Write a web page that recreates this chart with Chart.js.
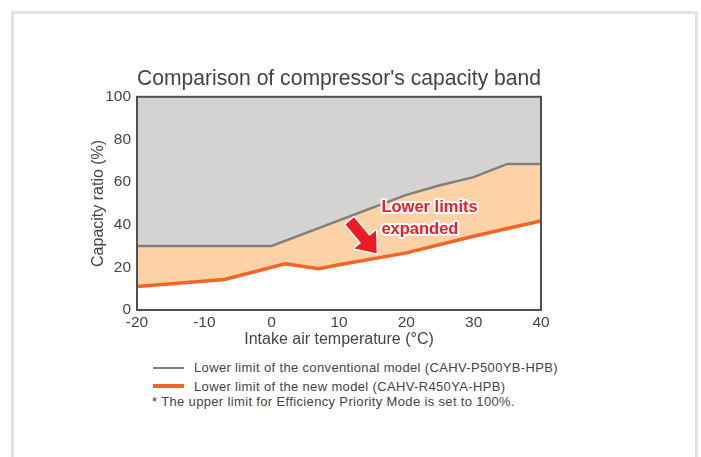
<!DOCTYPE html>
<html>
<head>
<meta charset="utf-8">
<script src="https://cdn.jsdelivr.net/npm/chart.js@4/dist/chart.umd.min.js"></script>
<style>
    body { margin: 0; width: 701px; height: 457px; overflow: hidden; background: #fff; font-family: "Liberation Sans", Arial, sans-serif; position: relative; }
    #frame { position: absolute; left: 11px; top: 11px; width: 681px; height: 500px; border: 3px solid #e3e3e3; }
    #chart { position: absolute; left: 0; top: 0; }
    .sw { position: absolute; left: 153px; width: 31px; }
    .lg { position: absolute; font-size: 13px; line-height: 15px; color: #444; letter-spacing: 0.35px; white-space: nowrap; }
</style>
</head>
<body>
<div id="frame"></div>
<canvas id="chart" width="701" height="350"></canvas>

<div class="sw" style="top:367px; height:2px; background:#808080;"></div>
<div class="lg" style="left:194px; top:360px;">Lower limit of the conventional model (CAHV-P500YB-HPB)</div>
<div class="sw" style="top:384px; height:4px; background:#f26522;"></div>
<div class="lg" style="left:194px; top:379px;">Lower limit of the new model (CAHV-R450YA-HPB)</div>
<div class="lg" style="left:152px; top:394px;">* The upper limit for Efficiency Priority Mode is set to 100%.</div>

<script>
// Límite inferior del modelo convencional (gris)
const CONV_X = [-20, 0, 20, 25, 30, 35, 40];
const CONV_Y = [30, 30, 54, 58.5, 62.3, 68.5, 68.5];

// Límite inferior del modelo nuevo (naranja)
const NEW_X = [-20, -7, 2, 7, 10, 20, 30, 35, 40];
const NEW_Y = [11, 14.3, 21.7, 19.4, 21.2, 26.8, 34.6, 38.2, 41.8];

// Ejes
const X_MIN = -20, X_MAX = 40, X_STEP = 10;
const Y_MIN = 0, Y_MAX = 100, Y_STEP = 20;

// Anotación (en unidades de datos)
const NOTE_LINES = ['Lower limits', 'expanded'];
const NOTE_AT = { x: 16.3, y: 46 };
const ARROW_FROM = { x: 11.6, y: 41.8 };
const ARROW_TO = { x: 15.6, y: 26.6 };

const RED = '#ec1c24';

const toPoints = (xs, ys) => xs.map((x, i) => ({ x, y: ys[i] }));

// Marco del área y flecha + texto
const overlayPlugin = {
    id: 'overlay',
    afterDatasetsDraw(chart) {
        const { ctx, chartArea: a, scales: { x, y } } = chart;
        ctx.save();

        // marco
        ctx.strokeStyle = '#505050';
        ctx.lineWidth = 2;
        ctx.strokeRect(a.left, a.top, a.right - a.left, a.bottom - a.top);

        // flecha
        const x0 = x.getPixelForValue(ARROW_FROM.x), y0 = y.getPixelForValue(ARROW_FROM.y);
        const x1 = x.getPixelForValue(ARROW_TO.x), y1 = y.getPixelForValue(ARROW_TO.y);
        const len = Math.hypot(x1 - x0, y1 - y0);
        const ux = (x1 - x0) / len, uy = (y1 - y0) / len;
        const px = -uy, py = ux;
        const shaft = 5.5, head = 14, headLen = 18;
        const bx = x1 - ux * headLen, by = y1 - uy * headLen;
        const pts = [
            [x0 + px * shaft, y0 + py * shaft],
            [bx + px * shaft, by + py * shaft],
            [bx + px * head, by + py * head],
            [x1, y1],
            [bx - px * head, by - py * head],
            [bx - px * shaft, by - py * shaft],
            [x0 - px * shaft, y0 - py * shaft]
        ];
        ctx.beginPath();
        pts.forEach((p, i) => i ? ctx.lineTo(p[0], p[1]) : ctx.moveTo(p[0], p[1]));
        ctx.closePath();
        ctx.lineJoin = 'round';
        ctx.strokeStyle = '#fff';
        ctx.lineWidth = 3;
        ctx.stroke();
        ctx.fillStyle = RED;
        ctx.fill();

        // texto
        const tx = x.getPixelForValue(NOTE_AT.x), ty = y.getPixelForValue(NOTE_AT.y);
        ctx.font = 'bold 16.5px "Liberation Sans", Arial, sans-serif';
        ctx.textAlign = 'left';
        ctx.textBaseline = 'alphabetic';
        NOTE_LINES.forEach((line, i) => {
            ctx.lineWidth = 4;
            ctx.strokeStyle = '#fff';
            ctx.strokeText(line, tx, ty + i * 21.6);
            ctx.fillStyle = RED;
            ctx.fillText(line, tx, ty + i * 21.6);
        });
        ctx.restore();
    }
};

new Chart(document.getElementById('chart'), {
    type: 'line',
    data: {
        datasets: [
            {
                label: 'Lower limit of the conventional model (CAHV-P500YB-HPB)',
                data: toPoints(CONV_X, CONV_Y),
                borderColor: '#808080',
                borderWidth: 2.5,
                backgroundColor: '#d4d3d2',
                fill: 'end',
                pointRadius: 0,
                tension: 0
            },
            {
                label: 'Lower limit of the new model (CAHV-R450YA-HPB)',
                data: toPoints(NEW_X, NEW_Y),
                borderColor: '#f26522',
                borderWidth: 3.5,
                backgroundColor: '#fdd2a7',
                fill: 0,
                pointRadius: 0,
                tension: 0
            }
        ]
    },
    plugins: [overlayPlugin],
    options: {
        responsive: false,
        animation: false,
        layout: { padding: { left: 80, right: 160, top: 0, bottom: 0 } },
        plugins: {
            legend: { display: false },
            tooltip: { enabled: false },
            title: {
                display: true,
                fullSize: false,
                text: "Comparison of compressor's capacity band",
                color: '#444',
                font: { family: '"Liberation Sans", Arial, sans-serif', size: 21.5, weight: 'normal' },
                padding: { top: 66, bottom: 5 }
            }
        },
        scales: {
            x: {
                type: 'linear',
                min: X_MIN, max: X_MAX,
                afterFit: (s) => { s.height = 40; },
                grid: { display: false, drawTicks: false },
                border: { display: false },
                ticks: {
                    stepSize: X_STEP,
                    padding: 3,
                    color: '#444',
                    font: { family: '"Liberation Sans", Arial, sans-serif', size: 15.5 }
                },
                title: {
                    display: true,
                    text: 'Intake air temperature (°C)',
                    color: '#444',
                    font: { family: '"Liberation Sans", Arial, sans-serif', size: 16 },
                    padding: { top: 0, bottom: 1 }
                }
            },
            y: {
                min: Y_MIN, max: Y_MAX,
                afterFit: (s) => { s.width = 57; },
                grid: { display: false, drawTicks: false },
                border: { display: false },
                ticks: {
                    stepSize: Y_STEP,
                    padding: 6,
                    color: '#444',
                    font: { family: '"Liberation Sans", Arial, sans-serif', size: 15.5 }
                },
                title: {
                    display: true,
                    text: 'Capacity ratio (%)',
                    color: '#444',
                    font: { family: '"Liberation Sans", Arial, sans-serif', size: 16 },
                    padding: { top: 8.5, bottom: 0 }
                }
            }
        }
    }
});
</script>
</body>
</html>
